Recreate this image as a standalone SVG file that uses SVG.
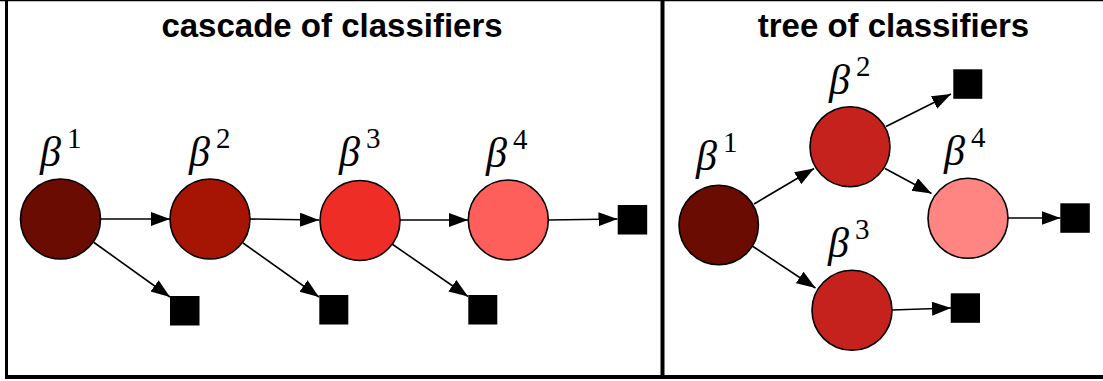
<svg xmlns="http://www.w3.org/2000/svg" width="1103" height="381" viewBox="0 0 1103 381">
<style>
.title{font-family:"Liberation Sans",Arial,sans-serif;font-weight:bold;font-size:33px;fill:#000;text-anchor:middle}
.beta{font-family:"Liberation Serif","DejaVu Serif",serif;font-style:italic;font-size:42px;fill:#000}
.sup{font-family:"Liberation Serif","DejaVu Serif",serif;font-style:normal;font-size:29px;fill:#000}
.node{stroke:#000;stroke-width:1.6}
.leaf{fill:#000}
.edge{stroke:#000;stroke-width:1.6;fill:none;marker-end:url(#ah)}
.frame{stroke:#000;fill:none}
</style>
<defs>
<marker id="ah" markerUnits="userSpaceOnUse" markerWidth="20" markerHeight="15" refX="19" refY="7" orient="auto">
<path d="M0,0 L19,7 L0,14 z" fill="#000"/>
</marker>
</defs>
<rect width="1103" height="381" fill="#fff"/>
<g id="frame">
<line class="frame" x1="0" y1="0.6" x2="1103" y2="0.6" stroke-width="1.5"/>
<line class="frame" x1="6.5" y1="0" x2="6.5" y2="379" stroke-width="3"/>
<line class="frame" x1="662.5" y1="0" x2="662.5" y2="379" stroke-width="4"/>
<line class="frame" x1="5" y1="377" x2="1103" y2="377" stroke-width="4"/>
</g>
<text class="title" x="332" y="37">cascade of classifiers</text>
<text class="title" x="893.5" y="37">tree of classifiers</text>
<g id="connectors">
<line class="edge" x1="100.5" y1="219" x2="170" y2="219"/>
<line class="edge" x1="94" y1="242.5" x2="170" y2="297"/>
<line class="edge" x1="250" y1="219" x2="319" y2="220"/>
<line class="edge" x1="243" y1="243" x2="319" y2="297"/>
<line class="edge" x1="400" y1="220" x2="468" y2="220"/>
<line class="edge" x1="392" y1="244" x2="468" y2="296.5"/>
<line class="edge" x1="548" y1="220" x2="617.5" y2="219"/>
<line class="edge" x1="754" y1="204" x2="814" y2="168.5"/>
<line class="edge" x1="753" y1="246.5" x2="815.5" y2="288"/>
<line class="edge" x1="886" y1="126.5" x2="951" y2="94"/>
<line class="edge" x1="885" y1="168.5" x2="931.5" y2="193.5"/>
<line class="edge" x1="1008" y1="218" x2="1060.5" y2="218"/>
<line class="edge" x1="892" y1="310" x2="951" y2="308"/>
</g>
<g id="c1"><circle class="node" cx="60.5" cy="219" r="40" fill="#6B0C02"/><text class="beta" x="40" y="166">β</text><text class="sup" x="67" y="148">1</text></g>
<g id="c2"><circle class="node" cx="210" cy="219" r="40" fill="#A61504"/><text class="beta" x="189" y="166">β</text><text class="sup" x="216" y="148">2</text></g>
<g id="c3"><circle class="node" cx="360" cy="220.5" r="40" fill="#EE2D27"/><text class="beta" x="339" y="166">β</text><text class="sup" x="366" y="148">3</text></g>
<g id="c4"><circle class="node" cx="508.3" cy="220" r="40" fill="#FF5F5B"/><text class="beta" x="486" y="167">β</text><text class="sup" x="513" y="149">4</text></g>
<g id="cl1"><rect class="leaf" x="170" y="296" width="29.5" height="29.5"/></g>
<g id="cl2"><rect class="leaf" x="319.3" y="295" width="29" height="29.5"/></g>
<g id="cl3"><rect class="leaf" x="468.3" y="295" width="29" height="29.5"/></g>
<g id="cl4"><rect class="leaf" x="617.7" y="205" width="29.5" height="29.5"/></g>
<g id="t1"><circle class="node" cx="718.7" cy="225" r="39.7" fill="#6B0C02"/><text class="beta" x="696" y="170">β</text><text class="sup" x="723" y="152">1</text></g>
<g id="t2"><circle class="node" cx="850" cy="146.7" r="40" fill="#C6221D"/><text class="beta" x="829" y="94">β</text><text class="sup" x="856" y="76">2</text></g>
<g id="t3"><circle class="node" cx="852" cy="310.3" r="40" fill="#C6221D"/><text class="beta" x="828" y="257">β</text><text class="sup" x="855" y="239">3</text></g>
<g id="t4"><circle class="node" cx="968" cy="218.3" r="40" fill="#FF8583"/><text class="beta" x="944" y="165">β</text><text class="sup" x="971" y="147">4</text></g>
<g id="tl1"><rect class="leaf" x="953.3" y="69.3" width="29" height="29.5"/></g>
<g id="tl2"><rect class="leaf" x="1060.3" y="203.3" width="29.5" height="29.5"/></g>
<g id="tl3"><rect class="leaf" x="950.7" y="293.3" width="29.3" height="29.5"/></g>
</svg>
